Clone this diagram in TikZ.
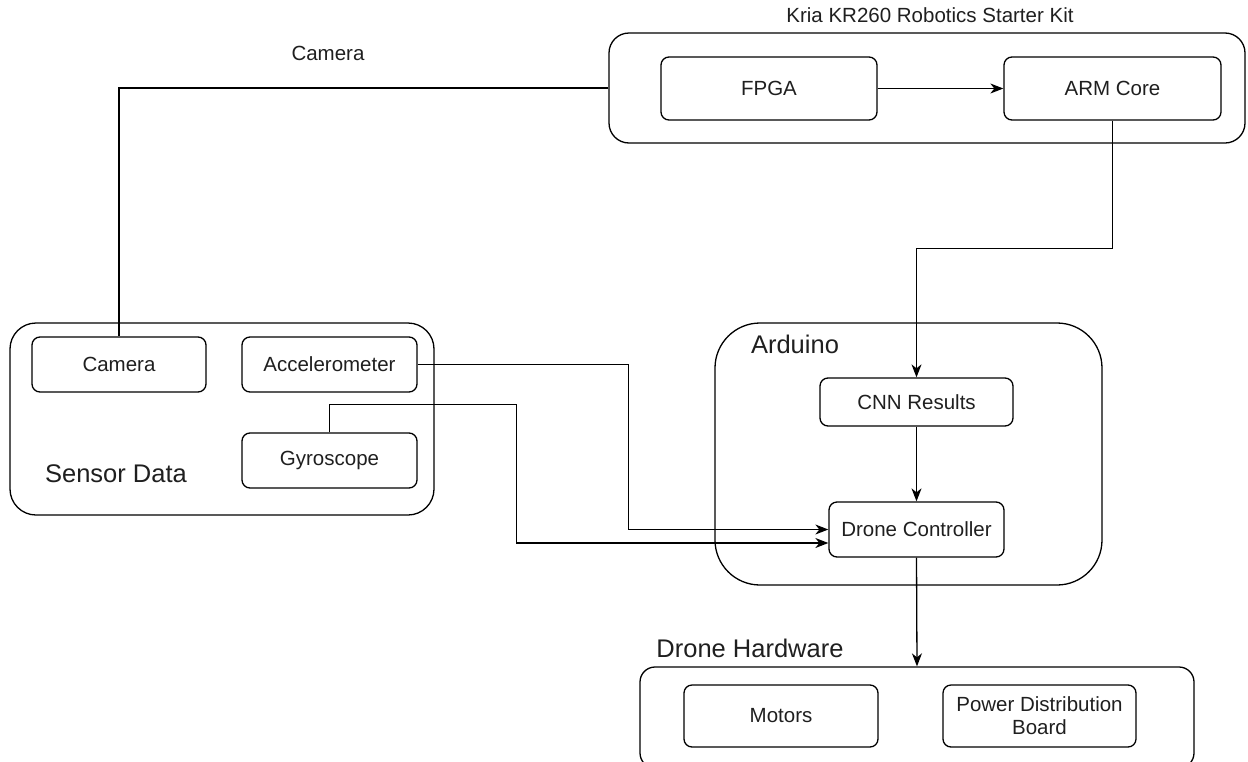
\documentclass[tikz,border=0pt]{standalone}
\usepackage{fontspec}
\setmainfont{Liberation Sans}
\usetikzlibrary{arrows.meta,calc}
\tikzset{
  blk/.style={draw, rounded corners=8pt, line width=1.3pt, inner sep=0pt, align=center,
    font=\fontsize{20.5}{23}\selectfont, text=black!88},
  grp/.style={draw, line width=1.3pt, inner sep=0pt},
  biglbl/.style={inner sep=0pt, font=\fontsize{25.5}{28}\selectfont, text=black!88},
  toplbl/.style={inner sep=0pt, font=\fontsize{20.5}{23}\selectfont, text=black!88},
  conn/.style={line width=1.3pt},
  arr/.style={conn, -{Stealth[length=13pt,width=10pt,inset=4pt]}}
}
\begin{document}
\begin{tikzpicture}[x=1pt,y=-1pt]
\useasboundingbox (0,0) rectangle (1248,761);
\clip (0,0) rectangle (1248,761);

% containers
\node[grp, rounded corners=20pt, minimum width=636pt, minimum height=110pt] (kria) at (927,88) {};
\node[grp, rounded corners=26pt, minimum width=424pt, minimum height=192pt] (sensor) at (222,419) {};
\node[grp, rounded corners=45pt, minimum width=387pt, minimum height=262pt] (ard) at (908.5,454) {};
\node[grp, rounded corners=15pt, minimum width=554pt, minimum height=101pt] (hw) at (917,717.5) {};

% labels
\node[toplbl] (kriat) at (930,15) {Kria KR260 Robotics Starter Kit};
\node[toplbl] (camt) at (328,53) {Camera};
\node[biglbl] (sent) at (116,474) {Sensor Data};
\node[biglbl] (ardt) at (795,344) {Arduino};
\node[biglbl] (hwt) at (750,648) {Drone Hardware};

% boxes
\node[blk, minimum width=216pt, minimum height=63pt] (fpga) at (769,88.5) {FPGA};
\node[blk, minimum width=217pt, minimum height=63pt] (arm) at (1112.5,88.5) {ARM Core};
\node[blk, minimum width=174pt, minimum height=55pt] (cam) at (119,364.5) {Camera};
\node[blk, minimum width=175pt, minimum height=55pt] (acc) at (329.5,364.5) {Accelerometer};
\node[blk, minimum width=175pt, minimum height=55pt] (gyro) at (329.5,460.5) {Gyroscope};
\node[blk, minimum width=193pt, minimum height=48pt] (cnn) at (916.5,402) {CNN Results};
\node[blk, minimum width=175pt, minimum height=55pt] (dc) at (916.5,529.5) {Drone Controller};
\node[blk, minimum width=194pt, minimum height=62pt] (mot) at (781,716) {Motors};
\node[blk, minimum width=193pt, minimum height=62pt] (pdb) at (1039.5,716) {Power Distribution\\Board};

% connectors
\draw[arr] (fpga.east) -- (arm.west);
\draw[conn] (kria.west) -| (cam.north);
\draw[arr] (arm.south) -- ++(0,128) -| (cnn.north);
\draw[arr] (cnn.south) -- (dc.north);
\draw[arr] (dc.south) -- (hw.north);
\draw[arr] (acc.east) -- ++(211,0) |- (dc.west);
\coordinate (gin) at ($(dc.west)+(0,13.5)$);
\draw[arr] (gyro.north) -- ++(0,-28) -- ++(187,0) |- (gin);
\end{tikzpicture}
\end{document}
